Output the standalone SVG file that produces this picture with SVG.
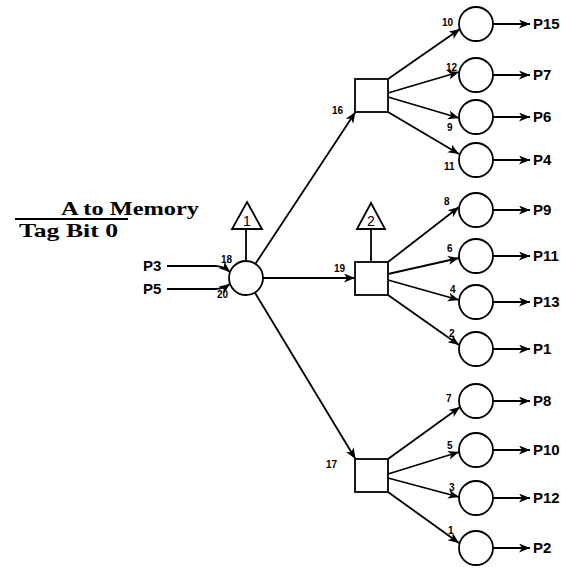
<svg xmlns="http://www.w3.org/2000/svg" width="561" height="571" viewBox="0 0 561 571">
<style>
.n{fill:#fff;stroke:#000;stroke-width:1.8}
.e{fill:none;stroke:#000;stroke-width:1.8;marker-end:url(#ah)}
.l{stroke:#000;stroke-width:1.8;fill:none}
.p{font-family:"Liberation Sans",Arial,sans-serif;font-weight:bold;font-size:15px;fill:#000}
.s{font-family:"Liberation Sans",Arial,sans-serif;font-weight:bold;font-size:10px;fill:#000}
.t{font-family:"Liberation Sans",Arial,sans-serif;font-size:14px;fill:#000;text-anchor:middle}
.h{font-family:"Liberation Serif","Times New Roman",serif;font-weight:bold;font-size:19px;fill:#000}
</style>
<defs>
<marker id="ah" markerUnits="userSpaceOnUse" markerWidth="14" markerHeight="10" refX="11" refY="4.5" orient="auto">
<path d="M0,0 L11,4.5 L0,9 L3,4.5 z" fill="#000"/>
</marker>
</defs>
<rect width="561" height="571" fill="#fff"/>
<g id="title">
<text class="h" x="61" y="215" textLength="138" lengthAdjust="spacingAndGlyphs">A to Memory</text>
<line x1="15" y1="219" x2="128" y2="219" stroke="#000" stroke-width="2"/>
<text class="h" x="19" y="237" textLength="99" lengthAdjust="spacingAndGlyphs">Tag Bit 0</text>
</g>
<g id="connectors">
<path class="e" d="M167,266 L215,266 Q223,266 230,272"/>
<path class="e" d="M167,289 L215,289 Q223,289 230,284"/>
<line class="l" x1="246" y1="229" x2="246" y2="261"/>
<line class="l" x1="371" y1="229" x2="371" y2="262"/>
<path class="e" d="M255.4,263.8 L355.5,112"/>
<path class="e" d="M263,278 L355,278"/>
<path class="e" d="M254.8,292.5 L355.5,459"/>
<path class="e" d="M388,79 L460,29"/>
<path class="e" d="M388,93 L459,72"/>
<path class="e" d="M388,97 L459,118"/>
<path class="e" d="M388,112 L459,154"/>
<path class="e" d="M388,262 L459,207"/>
<path class="e" d="M388,274 L459,258"/>
<path class="e" d="M388,280 L459,300"/>
<path class="e" d="M388,295 L459,345"/>
<path class="e" d="M388,459 L460,407"/>
<path class="e" d="M388,474 L459,452"/>
<path class="e" d="M388,478 L459,497"/>
<path class="e" d="M388,492 L459,543"/>
<path class="e" d="M493,24 L530,24"/>
<path class="e" d="M493,75 L530,75"/>
<path class="e" d="M493,117 L530,117"/>
<path class="e" d="M493,160 L530,160"/>
<path class="e" d="M493,210 L530,210"/>
<path class="e" d="M493,256 L530,256"/>
<path class="e" d="M493,302 L530,302"/>
<path class="e" d="M493,349 L530,349"/>
<path class="e" d="M493,401 L530,401"/>
<path class="e" d="M493,450 L530,450"/>
<path class="e" d="M493,498 L530,498"/>
<path class="e" d="M493,548 L530,548"/>
</g>
<g id="inputs">
<text class="p" x="143" y="271">P3</text>
<text class="p" x="143" y="294">P5</text>
<text class="s" x="221" y="263">18</text>
<text class="s" x="217" y="298">20</text>
</g>
<g id="center">
<circle class="n" cx="246" cy="278" r="17"/>
</g>
<g id="tri1">
<polygon class="n" points="247,202 262,229 232,229"/>
<text class="t" x="247" y="226">1</text>
</g>
<g id="tri2">
<polygon class="n" points="371,203 385,229 357,229"/>
<text class="t" x="371" y="226">2</text>
</g>
<g id="sq16">
<rect class="n" x="355" y="79" width="33" height="33"/>
<text class="s" x="332" y="114">16</text>
</g>
<g id="sq19">
<rect class="n" x="355" y="262" width="33" height="33"/>
<text class="s" x="334" y="272">19</text>
</g>
<g id="sq17">
<rect class="n" x="355" y="459" width="33" height="33"/>
<text class="s" x="326" y="468">17</text>
</g>
<g id="c10"><circle class="n" cx="476" cy="24" r="17"/><text class="s" x="442" y="26">10</text><text class="p" x="533" y="29">P15</text></g>
<g id="c12"><circle class="n" cx="476" cy="75" r="17"/><text class="s" x="446" y="71">12</text><text class="p" x="533" y="80">P7</text></g>
<g id="c9"><circle class="n" cx="476" cy="117" r="17"/><text class="s" x="447" y="131">9</text><text class="p" x="533" y="122">P6</text></g>
<g id="c11"><circle class="n" cx="476" cy="160" r="17"/><text class="s" x="444" y="170">11</text><text class="p" x="533" y="165">P4</text></g>
<g id="c8"><circle class="n" cx="476" cy="210" r="17"/><text class="s" x="444" y="205">8</text><text class="p" x="533" y="215">P9</text></g>
<g id="c6"><circle class="n" cx="476" cy="256" r="17"/><text class="s" x="447" y="252">6</text><text class="p" x="533" y="261">P11</text></g>
<g id="c4"><circle class="n" cx="476" cy="302" r="17"/><text class="s" x="450" y="293">4</text><text class="p" x="533" y="307">P13</text></g>
<g id="c2"><circle class="n" cx="476" cy="349" r="17"/><text class="s" x="449" y="337">2</text><text class="p" x="533" y="354">P1</text></g>
<g id="c7"><circle class="n" cx="476" cy="401" r="17"/><text class="s" x="446" y="402">7</text><text class="p" x="533" y="406">P8</text></g>
<g id="c5"><circle class="n" cx="476" cy="450" r="17"/><text class="s" x="447" y="449">5</text><text class="p" x="533" y="455">P10</text></g>
<g id="c3"><circle class="n" cx="476" cy="498" r="17"/><text class="s" x="449" y="491">3</text><text class="p" x="533" y="503">P12</text></g>
<g id="c1"><circle class="n" cx="476" cy="548" r="17"/><text class="s" x="448" y="534">1</text><text class="p" x="533" y="553">P2</text></g>
</svg>
